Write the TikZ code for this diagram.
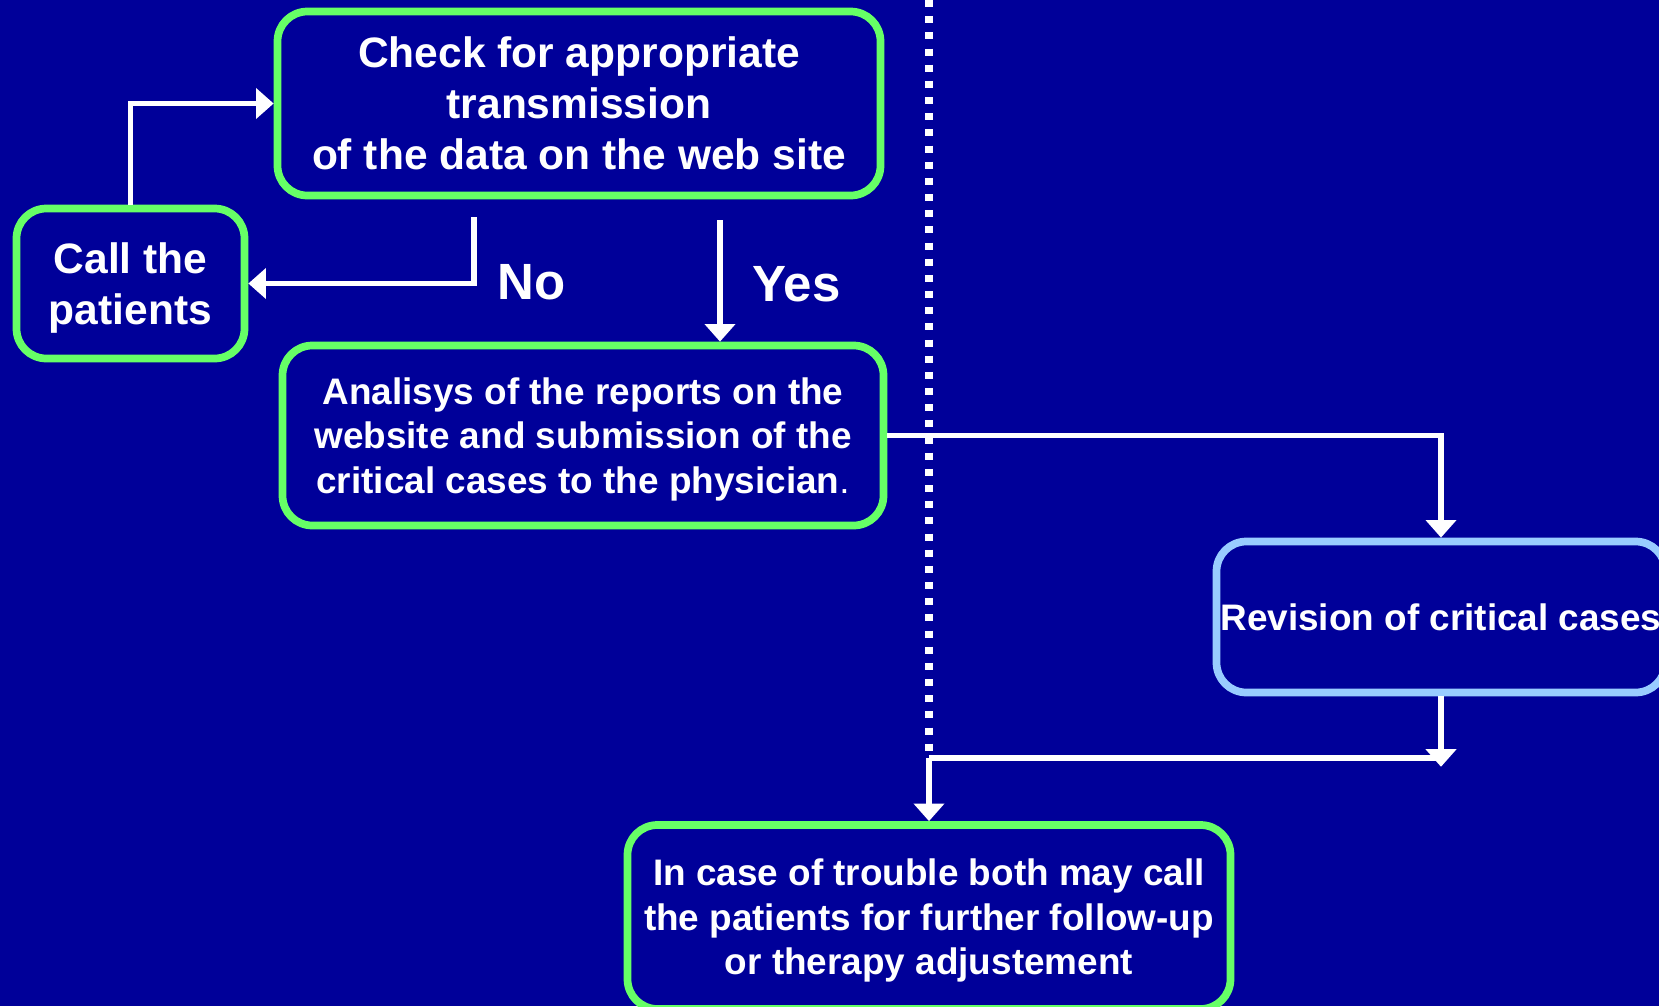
\documentclass[tikz,border=0pt]{standalone}
\usepackage{fontspec}
\setmainfont{Liberation Sans}
\usetikzlibrary{arrows.meta}
\definecolor{slideblue}{RGB}{0,0,153}
\definecolor{boxgreen}{RGB}{102,255,102}
\definecolor{boxsky}{RGB}{153,204,255}

\begin{document}
\begin{tikzpicture}[
	box/.style={draw=boxgreen,line width=2.2pt,rounded corners=8.5pt,fill=slideblue,text=white,align=center,inner sep=0pt},
	bigtext/.style={font=\fontsize{12.1}{14.5}\selectfont\bfseries},
	smalltext/.style={font=\fontsize{10.5}{12.66}\selectfont\bfseries},
	answer/.style={text=white,inner sep=0pt,anchor=west,font=\fontsize{14.5}{16}\selectfont\bfseries},
	arr/.style={draw=white,line width=1.6pt,-{Triangle[length=5pt,width=8.5pt]}},
	link/.style={draw=white,line width=1.6pt}]
	\useasboundingbox (0,0) rectangle (16.59,10.06);
	\clip (0,0) rectangle (16.59,10.06);
	\fill[slideblue] (0,0) rectangle (16.59,10.06);
	\draw[white,line width=2.2pt,dash pattern=on 2pt off 2.6pt] (9.29,10.06) -- (9.29,2.48);
	
	\node[box,bigtext,minimum width=6.03cm,minimum height=1.84cm] (check) at (5.79,9.025) {Check for appropriate\\ transmission\\ of the data on the web site};
	\node[box,bigtext,text depth=0pt,minimum width=2.28cm,minimum height=1.50cm] (call) at (1.305,7.225) {Call the\\ patients};
	\node[box,smalltext,text depth=0pt,minimum width=6.01cm,minimum height=1.80cm] (ana) at (5.83,5.705) {Analisys of the reports on the\\ website and submission of the\\ critical cases to the physician\textmd{.}};
	\node[box,smalltext,draw=boxsky,minimum width=4.49cm,minimum height=1.51cm] (rev) at (14.41,3.89) {Revision of critical cases};
	\node[box,smalltext,text depth=0pt,minimum width=6.03cm,minimum height=1.84cm] (bot) at (9.29,0.89) {In case of trouble both may call\\ the patients for further follow-up\\ or therapy adjustement};
	
	\node[answer] (no) at (4.97,7.24) {No};
	\node[answer] (yes) at (7.52,7.22) {Yes};
	
	\coordinate (notop) at (4.74,7.89);
	\coordinate (yestop) at (7.20,7.86);
	\coordinate (joinl) at (9.29,2.48);
	\coordinate (joinr) at (14.41,2.48);
	
	\draw[arr] (call.north) |- (check.west);
	\draw[arr] (notop) |- (call.east);
	\draw[arr] (yestop) -- (yestop |- ana.north);
	\draw[arr] (ana.east) -| (rev.north);
	\draw[link] (joinl) -- (joinr);
	\draw[arr] (rev.south) -- ([yshift=-2.5pt]joinr);
	\draw[arr] (joinl) -- (bot.north);
\end{tikzpicture}
\end{document}
